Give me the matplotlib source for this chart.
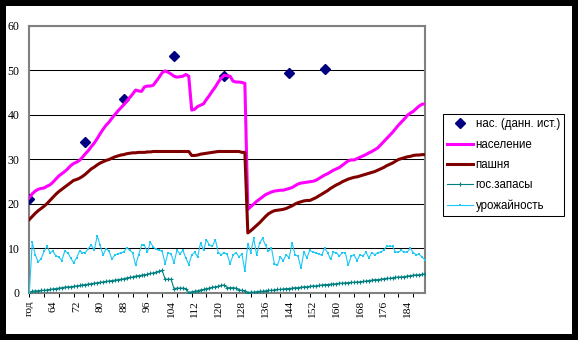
import matplotlib
matplotlib.use("Agg")
import numpy as np
import matplotlib.pyplot as plt
from matplotlib.patches import Rectangle

# category axis: header cell "год" followed by years 57..190
categories = ["год"] + [str(y) for y in range(57, 191)]

# historical population estimates (category label -> value)
hist_years = ["год", "75", "88", "105", "122", "144", "156"]
hist_values = [21.0, 33.9, 43.4, 53.2, 48.7, 49.3, 50.2]

naselenie = [
    21.3, 22.2, 22.8, 23.2, 23.4, 23.5, 23.9, 24.2, 24.8, 25.5,
    26.2, 26.7, 27.2, 27.8, 28.5, 29.0, 29.3, 29.7, 30.4, 31.2,
    31.9, 32.8, 33.6, 34.6, 35.7, 36.7, 37.6, 38.3, 39.2, 40.0,
    40.8, 41.5, 42.2, 43.0, 43.8, 44.6, 45.5, 45.3, 45.2, 46.2,
    46.4, 46.4, 46.6, 47.5, 48.4, 49.4, 49.8, 49.5, 49.1, 48.6,
    48.4, 48.5, 48.6, 49.0, 48.6, 41.0, 41.2, 41.8, 42.1, 42.4,
    43.4, 44.3, 45.3, 46.2, 47.3, 48.2, 48.8, 48.7, 48.6, 47.5,
    47.3, 47.3, 47.2, 47.0, 18.7, 19.3, 19.9, 20.5, 21.0, 21.5,
    22.0, 22.3, 22.6, 22.8, 22.9, 23.0, 23.0, 23.2, 23.4, 23.6,
    24.0, 24.4, 24.6, 24.7, 24.8, 24.9, 25.0, 25.2, 25.6, 26.0,
    26.4, 26.7, 27.1, 27.5, 27.8, 28.1, 28.6, 29.1, 29.6, 29.8,
    29.8, 30.1, 30.4, 30.7, 31.0, 31.4, 31.7, 32.1, 32.5, 33.2,
    33.9, 34.6, 35.3, 36.0, 36.8, 37.6, 38.3, 39.0, 39.8, 40.3,
    40.7, 41.3, 41.9, 42.3, 42.4,
]

pashnya = [
    16.4, 17.1, 17.8, 18.4, 18.9, 19.4, 20.0, 20.7, 21.4, 22.1,
    22.7, 23.2, 23.7, 24.2, 24.7, 25.2, 25.4, 25.7, 26.1, 26.6,
    27.2, 27.8, 28.2, 28.7, 29.1, 29.4, 29.7, 29.9, 30.2, 30.5,
    30.7, 30.9, 31.0, 31.2, 31.3, 31.4, 31.4, 31.5, 31.5, 31.5,
    31.6, 31.6, 31.7, 31.7, 31.7, 31.7, 31.7, 31.7, 31.7, 31.7,
    31.7, 31.7, 31.7, 31.7, 31.7, 30.8, 30.8, 30.9, 31.1, 31.2,
    31.3, 31.4, 31.5, 31.6, 31.7, 31.7, 31.7, 31.7, 31.7, 31.7,
    31.7, 31.7, 31.5, 31.5, 13.4, 13.9, 14.5, 15.1, 15.7, 16.4,
    17.1, 17.7, 18.1, 18.4, 18.5, 18.6, 18.7, 18.9, 19.2, 19.5,
    19.9, 20.2, 20.4, 20.6, 20.7, 20.7, 21.0, 21.3, 21.7, 22.1,
    22.5, 22.9, 23.4, 23.8, 24.2, 24.5, 24.9, 25.2, 25.5, 25.7,
    25.9, 26.0, 26.2, 26.4, 26.6, 26.8, 27.0, 27.2, 27.5, 27.8,
    28.1, 28.5, 28.8, 29.1, 29.5, 29.9, 30.1, 30.3, 30.5, 30.6,
    30.8, 30.9, 30.9, 31.0, 31.0,
]

gos_zapasy = [
    0.0, 0.3, 0.4, 0.4, 0.5, 0.5, 0.6, 0.7, 0.8, 0.9,
    1.0, 1.1, 1.2, 1.3, 1.3, 1.4, 1.5, 1.6, 1.7, 1.8,
    1.9, 2.0, 2.1, 2.2, 2.3, 2.4, 2.5, 2.6, 2.7, 2.8,
    2.9, 3.0, 3.1, 3.3, 3.4, 3.5, 3.7, 3.8, 3.9, 4.0,
    4.1, 4.3, 4.4, 4.6, 4.8, 5.0, 3.0, 3.0, 3.0, 0.9,
    1.0, 1.0, 1.0, 0.9, 0.0, 0.2, 0.3, 0.4, 0.6, 0.7,
    0.9, 1.0, 1.2, 1.3, 1.4, 1.6, 1.7, 1.1, 1.1, 1.1,
    1.0, 0.6, 0.5, 0.4, 0.0, 0.1, 0.1, 0.2, 0.3, 0.3,
    0.4, 0.5, 0.5, 0.6, 0.7, 0.7, 0.8, 0.9, 0.9, 1.0,
    1.1, 1.1, 1.2, 1.3, 1.3, 1.4, 1.5, 1.5, 1.6, 1.7,
    1.8, 1.8, 1.9, 1.9, 2.0, 2.1, 2.1, 2.2, 2.2, 2.3,
    2.3, 2.4, 2.4, 2.5, 2.6, 2.7, 2.8, 2.9, 2.9, 3.0,
    3.1, 3.2, 3.2, 3.3, 3.4, 3.5, 3.5, 3.6, 3.7, 3.8,
    3.9, 4.0, 4.0, 4.1, 4.2,
]

urozhainost = [
    0.0, 11.3, 8.5, 6.9, 7.6, 9.3, 10.4, 9.0, 9.3, 8.2,
    8.0, 7.2, 9.3, 9.0, 7.8, 6.7, 7.8, 9.3, 9.0, 9.0,
    9.9, 10.7, 9.5, 12.8, 10.6, 8.4, 9.9, 9.3, 7.5, 8.5,
    8.7, 9.0, 9.1, 10.1, 9.5, 9.0, 6.1, 8.4, 10.6, 10.6,
    9.1, 11.3, 10.2, 9.7, 9.5, 9.3, 6.5, 9.0, 8.7, 6.7,
    9.5, 8.7, 9.5, 7.8, 6.3, 8.4, 9.1, 8.0, 11.2, 9.5,
    11.9, 10.7, 10.4, 11.9, 9.0, 8.5, 9.0, 8.6, 6.5, 8.4,
    9.0, 8.0, 8.7, 4.8, 11.0, 9.0, 12.2, 8.4, 11.2, 12.2,
    10.6, 9.3, 10.0, 6.5, 6.1, 8.0, 7.2, 8.5, 7.8, 11.2,
    8.5, 8.2, 5.5, 9.1, 7.8, 9.5, 9.1, 9.0, 8.7, 8.4,
    10.0, 9.0, 7.5, 9.1, 9.0, 8.2, 9.0, 9.0, 6.1, 8.2,
    8.4, 7.2, 8.5, 8.2, 9.1, 7.8, 9.0, 8.5, 9.0, 9.1,
    9.5, 10.4, 10.4, 10.4, 9.1, 9.1, 9.5, 9.1, 9.1, 10.0,
    9.0, 8.5, 8.6, 8.0, 7.3,
]

series_labels = ["нас. (данн. ист.)", "население", "пашня", "гос.запасы", "урожайность"]
y_ticks = [0, 10, 20, 30, 40, 50, 60]

W, H = 578, 340
fig = plt.figure(figsize=(W / 100, H / 100), dpi=100, facecolor="black")
fig.add_artist(Rectangle((6 / W, 6 / H), 566 / W, 328 / H, transform=fig.transFigure,
                         facecolor="white", edgecolor="none", zorder=-1))

ax = fig.add_axes([29.3 / W, 1 - 292.6 / H, (425 - 29.3) / W, (292.6 - 25.5) / H])
ax.set_facecolor("white")

x = np.arange(len(categories))
hist_x = [categories.index(c) for c in hist_years]

h0, = ax.plot(hist_x, hist_values, linestyle="none", marker="D", markersize=4.6,
              color="#000080", zorder=3)
h1, = ax.plot(x, naselenie, color="#FF00FF", lw=2.2, zorder=4)
h2, = ax.plot(x, pashnya, color="#800000", lw=2.2, zorder=4)
h3, = ax.plot(x, gos_zapasy, color="#008080", lw=0.8, marker="+", markersize=3.2,
              markeredgewidth=0.8, zorder=4)
h4, = ax.plot(x, urozhainost, color="#1EC8F5", lw=0.8, marker="s", markersize=1.8,
              markeredgewidth=0, zorder=4)

ax.set_xlim(0, len(categories) - 1)
ax.set_ylim(0, 60)

ax.set_yticks(y_ticks)
ax.set_yticklabels([str(v) for v in y_ticks], family="Liberation Serif", fontsize=8.5)
ax.tick_params(axis="y", length=0, pad=7, colors="black")

ax.xaxis.remove_overlapping_locs = False
major = list(range(0, len(categories), 8))
ax.set_xticks(major)
ax.set_xticklabels([categories[i] for i in major], rotation=90,
                   family="Liberation Serif", fontsize=8.2)
ax.set_xticks(list(range(0, len(categories), 5)), minor=True)
ax.tick_params(axis="x", which="major", length=0, pad=6)
ax.tick_params(axis="x", which="minor", length=3, width=0.75, color="black", direction="out")

ax.set_axisbelow(True)
ax.grid(axis="y", color="black", lw=0.75)
for sp in ax.spines.values():
    sp.set_color("#808080")
    sp.set_linewidth(1.5)

leg = fig.legend([h0, h1, h2, h3, h4], series_labels, loc="upper left",
                 bbox_to_anchor=(443 / W, 1 - 114 / H), bbox_transform=fig.transFigure,
                 frameon=True, fancybox=False, shadow=False, framealpha=1,
                 edgecolor="black", borderaxespad=0,
                 prop={"family": "Liberation Sans", "size": 8.3},
                 handlelength=2.2, handletextpad=0.25, labelspacing=0.72,
                 borderpad=0.38)
leg.get_frame().set_linewidth(0.75)

fig.savefig("out.png", dpi=100, facecolor="black")
